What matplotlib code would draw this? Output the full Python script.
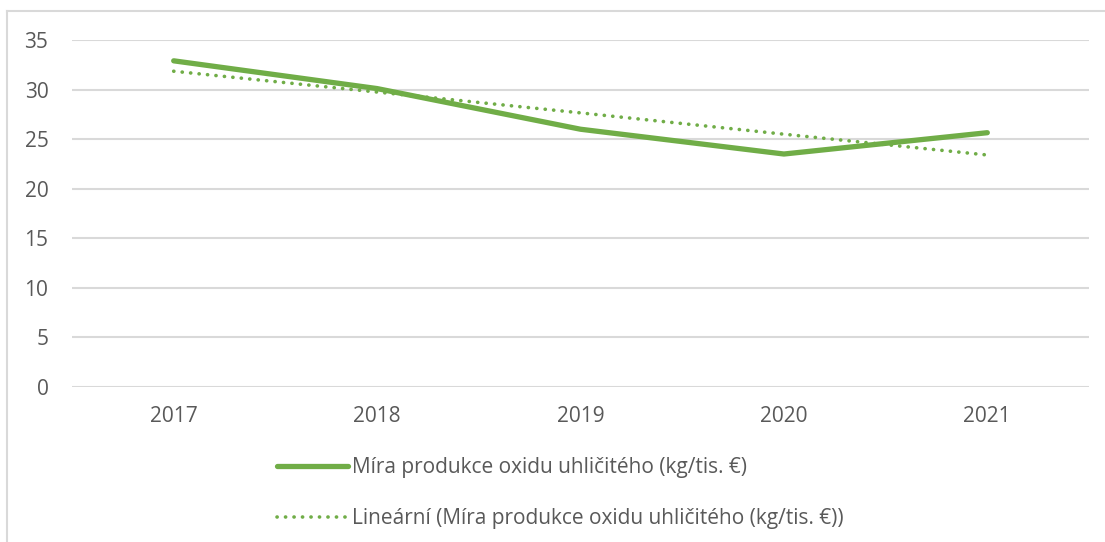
"""
Míra produkce oxidu uhličitého 2017–2021 s lineárním trendem.
Výstup: out.png (1105x542 px).
"""

import matplotlib

matplotlib.use("Agg")
import matplotlib.pyplot as plt
from matplotlib.lines import Line2D

# data
years = ["2017", "2018", "2019", "2020", "2021"]
co2_rate = [32.9, 30.1, 26.0, 23.5, 25.65]
# lineární trend (hodnoty odečtené z tečkované čáry)
co2_trend = [31.85, 29.75, 27.65, 25.5, 23.4]
y_ticks = [0, 5, 10, 15, 20, 25, 30, 35]

series_label = "Míra produkce oxidu uhličitého (kg/tis. €)"
trend_label = "Lineární (Míra produkce oxidu uhličitého (kg/tis. €))"

GREEN = "#70AD47"
GRID = "#D9D9D9"
TEXT = "#595959"
FONT_SIZE = 15

plt.rcParams["font.family"] = ["Open Sans", "DejaVu Sans"]

W, H = 1105, 542
fig = plt.figure(figsize=(W / 100, H / 100), dpi=100)

# plot area in pixel coordinates of the reference
left, right, top, bottom = 72, 1089, 40, 387
ax = fig.add_axes([left / W, 1 - bottom / H, (right - left) / W, (bottom - top) / H])

x = list(range(len(years)))
ax.plot(x, co2_rate, color=GREEN, linewidth=3.8, solid_capstyle="round",
        solid_joinstyle="round", zorder=3)
ax.plot(x, co2_trend, color=GREEN, linewidth=2.6, linestyle=(0, (0.05, 2.3)),
        dash_capstyle="round", zorder=3)

ax.set_xlim(-0.5, len(years) - 0.5)
ax.set_ylim(0, 35)
ax.set_yticks(y_ticks)
ax.set_xticks(x)
ax.set_xticklabels(years)
ax.yaxis.grid(True, color=GRID, linewidth=1.5)
ax.set_axisbelow(True)
for spine in ax.spines.values():
    spine.set_visible(False)
ax.tick_params(axis="both", length=0, labelsize=FONT_SIZE, labelcolor=TEXT)
ax.tick_params(axis="y", pad=17)
ax.tick_params(axis="x", pad=14)

# chart area border (only top and left edges are visible in the crop)
fig.add_artist(Line2D([7 / W, 7 / W], [0, 1 - 11 / H], color=GRID, linewidth=1.5))
fig.add_artist(Line2D([7 / W, 1], [1 - 11 / H, 1 - 11 / H], color=GRID, linewidth=1.5))

handles = [
    Line2D([], [], color=GREEN, linewidth=3.8, solid_capstyle="round"),
    Line2D([], [], color=GREEN, linewidth=2.6, linestyle=(0, (0.05, 2.3)),
           dash_capstyle="round"),
]
fig.legend(handles, [series_label, trend_label], loc="upper left",
           bbox_to_anchor=(277 / W, 1 - 457 / H), frameon=False, fontsize=FONT_SIZE,
           labelcolor=TEXT, handlelength=3.4, handletextpad=0.2,
           labelspacing=1.45, borderaxespad=0, borderpad=0)

fig.savefig("out.png", dpi=100)
